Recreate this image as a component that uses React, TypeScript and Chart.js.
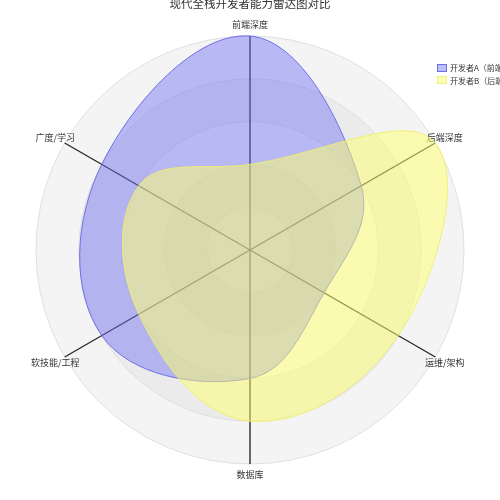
import { useEffect, useRef } from "react";
import { Chart, registerables } from "chart.js";

Chart.register(...registerables);

const indicators = ["前端深度", "后端深度", "运维/架构", "数据库", "软技能/工程", "广度/学习"];
const devA = [100, 60, 40, 60, 80, 80];
const devB = [40, 100, 80, 80, 60, 60];
const seriesNames = ["开发者A（前端专家）", "开发者B（后端专家）"];
const maxScore = 100;
const ringStep = 20;

const FONT = '"Noto Sans CJK SC", "Noto Sans", sans-serif';
const fills = ["rgba(110,110,245,0.45)", "rgba(255,255,110,0.5)"];
const strokes = ["rgba(100,100,230,0.9)", "rgba(240,240,110,0.9)"];
const bands = ["#f4f4f5", "#ebebeb"];

// alternating ring bands + centred axis names
const radarDecor = {
  id: "radarDecor",
  beforeDraw(chart: any) {
    const s = chart.scales.r;
    const ctx = chart.ctx;
    ctx.save();
    for (let v = maxScore; v > 0; v -= ringStep) {
      const idx = v / ringStep - 1;
      ctx.beginPath();
      ctx.arc(s.xCenter, s.yCenter, s.getDistanceFromCenterForValue(v), 0, Math.PI * 2);
      ctx.fillStyle = bands[idx % 2];
      ctx.fill();
    }
    ctx.restore();
  },
  beforeDatasetsDraw(chart: any) {
    const s = chart.scales.r;
    const ctx = chart.ctx;
    ctx.save();
    ctx.font = `9px ${FONT}`;
    ctx.fillStyle = "#333";
    ctx.textAlign = "center";
    ctx.textBaseline = "middle";
    indicators.forEach((t, i) => {
      const p = s.getPointPosition(i, s.drawingArea + 11);
      ctx.fillText(t, p.x, p.y);
    });
    ctx.restore();
  },
};

export default function App() {
  const ref = useRef<HTMLCanvasElement>(null);

  useEffect(() => {
    if (!ref.current) return;
    const chart = new Chart(ref.current, {
      type: "radar",
      data: {
        labels: indicators,
        datasets: [
          {
            label: seriesNames[0],
            data: devA,
            backgroundColor: fills[0],
            borderColor: strokes[0],
            borderWidth: 1,
            pointRadius: 0,
            tension: 0.4,
            fill: true,
            order: 1,
          },
          {
            label: seriesNames[1],
            data: devB,
            backgroundColor: fills[1],
            borderColor: strokes[1],
            borderWidth: 1,
            pointRadius: 0,
            tension: 0.4,
            fill: true,
            order: 0,
          },
        ],
      },
      options: {
        animation: false,
        responsive: true,
        maintainAspectRatio: false,
        layout: { padding: 36 },
        plugins: { legend: { display: false }, title: { display: false }, tooltip: { enabled: false } },
        scales: {
          r: {
            min: 0,
            max: maxScore,
            ticks: { display: false, stepSize: ringStep },
            grid: { circular: true, color: "#e0e0e0" },
            angleLines: { color: "#2a2a2a", lineWidth: 1.4 },
            pointLabels: { display: false },
          },
        },
      },
      plugins: [radarDecor],
    });
    return () => chart.destroy();
  }, []);

  return (
    <div style={{ position: "fixed", left: 0, top: 0, width: 500, height: 500, overflow: "hidden", background: "#fff", fontFamily: FONT }}>
      <div style={{ position: "absolute", left: 0, top: 0, width: 500, height: 500 }}>
        <canvas ref={ref} />
      </div>
      <div style={{ position: "absolute", left: 0, top: -3, width: 500, textAlign: "center", fontSize: 11.5, lineHeight: "12px", color: "#333" }}>
        现代全栈开发者能力雷达图对比
      </div>
      <div style={{ position: "absolute", left: 437, top: 61.5, whiteSpace: "nowrap" }}>
        {seriesNames.map((n, i) => (
          <div key={n} style={{ display: "flex", alignItems: "center", height: 12.5, fontSize: 8, color: "#333" }}>
            <span style={{ display: "inline-block", width: 8, height: 6, background: fills[i], border: `1px solid ${strokes[i]}`, marginRight: 3 }} />
            {n}
          </div>
        ))}
      </div>
    </div>
  );
}
